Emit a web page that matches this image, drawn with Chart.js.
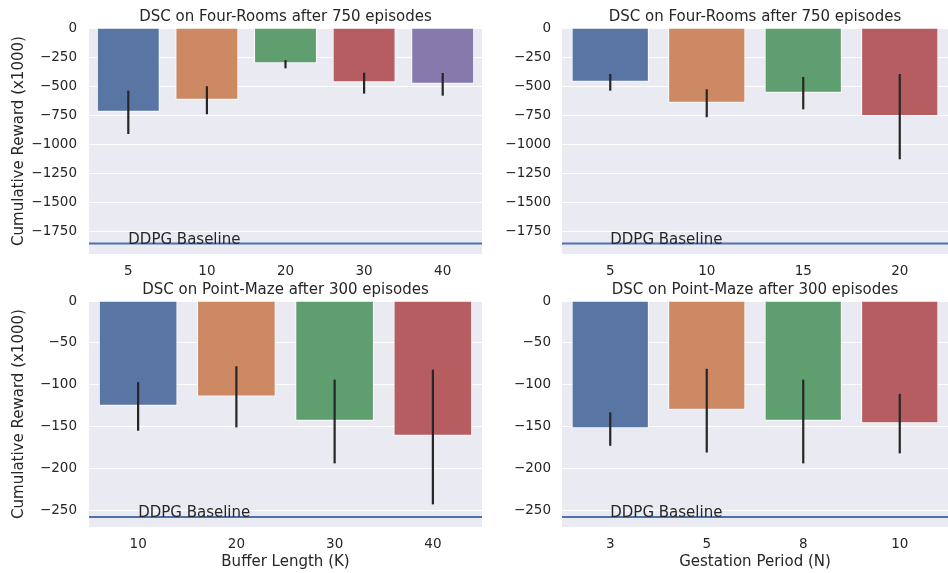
<!DOCTYPE html>
<html>
<head>
<meta charset="utf-8">
<script src="https://cdn.jsdelivr.net/npm/chart.js@4"></script>
<style>
  body { margin: 0; background: #fff; }
  #fig { position: relative; width: 948px; height: 573px; }
  .panel { position: absolute; }
</style>
</head>
<body>
<div id="fig">
  <div class="panel" style="left:0;top:0;width:482px;height:290px"><canvas id="chart1"></canvas></div>
  <div class="panel" style="left:482px;top:0;width:466px;height:290px"><canvas id="chart2"></canvas></div>
  <div class="panel" style="left:0;top:280px;width:482px;height:293px"><canvas id="chart3"></canvas></div>
  <div class="panel" style="left:482px;top:280px;width:466px;height:293px"><canvas id="chart4"></canvas></div>
</div>
<script>
// data (reward x1000)
var fourRoomsBufferLabels = ['5', '10', '20', '30', '40'];
var fourRoomsBufferMean = [-718, -615, -303, -466, -478];
var fourRoomsBufferLow = [-910, -740, -346, -563, -581];
var fourRoomsBufferHigh = [-538, -500, -275, -383, -386];

var fourRoomsGestLabels = ['5', '10', '15', '20'];
var fourRoomsGestMean = [-461, -641, -555, -755];
var fourRoomsGestLow = [-538, -766, -698, -1127];
var fourRoomsGestHigh = [-395, -526, -420, -395];

var mazeBufferLabels = ['10', '20', '30', '40'];
var mazeBufferMean = [-125, -114, -143, -161];
var mazeBufferLow = [-155, -151, -194, -243];
var mazeBufferHigh = [-97, -78, -94, -82];

var mazeGestLabels = ['3', '5', '8', '10'];
var mazeGestMean = [-152, -130, -143, -146];
var mazeGestLow = [-173, -181, -194, -182];
var mazeGestHigh = [-133, -81, -94, -111];

var fourRoomsBaseline = -1850;
var mazeBaseline = -258;

var fourRoomsTicks = [0, -250, -500, -750, -1000, -1250, -1500, -1750];
var mazeTicks = [0, -50, -100, -150, -200, -250];

var barColors = ['#5975a4', '#cc8963', '#5f9e6e', '#b55d60', '#857aab'];
var textColor = '#262626';
var FONT = "'DejaVu Sans', sans-serif";

var errorBars = {
  id: 'errorBars',
  afterDatasetsDraw: function(chart, args, opts) {
    var ctx = chart.ctx, x = chart.scales.x, y = chart.scales.y;
    ctx.save();
    ctx.strokeStyle = textColor;
    ctx.lineWidth = 2.2;
    opts.low.forEach(function(lo, i) {
      var px = x.getPixelForValue(i);
      ctx.beginPath();
      ctx.moveTo(px, y.getPixelForValue(lo));
      ctx.lineTo(px, y.getPixelForValue(opts.high[i]));
      ctx.stroke();
    });
    ctx.restore();
  }
};

var baseline = {
  id: 'baseline',
  afterDatasetsDraw: function(chart, args, opts) {
    var ctx = chart.ctx, x = chart.scales.x, y = chart.scales.y, area = chart.chartArea;
    var py = y.getPixelForValue(opts.value);
    ctx.save();
    ctx.strokeStyle = '#4c72b0';
    ctx.lineWidth = 2;
    ctx.beginPath();
    ctx.moveTo(area.left, py);
    ctx.lineTo(area.right, py);
    ctx.stroke();
    ctx.fillStyle = textColor;
    ctx.font = '15px ' + FONT;
    ctx.textBaseline = 'alphabetic';
    ctx.textAlign = 'left';
    ctx.fillText('DDPG Baseline', x.getPixelForValue(0), py);
    ctx.restore();
  }
};

var plotBg = {
  id: 'plotBg',
  beforeDraw: function(chart) {
    var a = chart.chartArea, ctx = chart.ctx;
    ctx.save();
    ctx.fillStyle = '#eaeaf2';
    ctx.fillRect(a.left, a.top, a.right - a.left, a.bottom - a.top);
    ctx.restore();
  }
};

function minus(v) {
  return v < 0 ? '\u2212' + Math.abs(v) : String(v);
}

function renderPanel(idChart, cfg) {
  var ctx = document.getElementById(idChart).getContext('2d');
  return new Chart(ctx, {
    type: 'bar',
    data: {
      labels: cfg.labels,
      datasets: [{
        data: cfg.mean,
        backgroundColor: barColors.slice(0, cfg.labels.length),
        borderColor: '#ffffff',
        borderWidth: 1,
        categoryPercentage: 0.8,
        barPercentage: 1
      }]
    },
    options: {
      responsive: true,
      maintainAspectRatio: false,
      animation: false,
      layout: { padding: 0 },
      plugins: {
        legend: { display: false },
        tooltip: { enabled: false },
        title: {
          display: true,
          fullSize: false,
          text: cfg.title,
          color: textColor,
          font: { family: FONT, size: 15, weight: 'normal' },
          padding: cfg.titlePad
        },
        errorBars: { low: cfg.low, high: cfg.high },
        baseline: { value: cfg.baseline }
      },
      scales: {
        x: {
          grid: { display: false, drawTicks: false },
          border: { display: false },
          ticks: { color: textColor, font: { family: FONT, size: 13.5 }, padding: 9 },
          title: {
            display: !!cfg.xTitle,
            text: cfg.xTitle || '',
            color: textColor,
            font: { family: FONT, size: 15 },
            padding: { top: 0, bottom: 2 }
          },
          afterFit: function(s) { s.height = cfg.xHeight; }
        },
        y: {
          min: cfg.yMin,
          max: 0,
          grid: { color: '#ffffff', lineWidth: 1, drawTicks: false },
          border: { display: false },
          ticks: {
            padding: cfg.tickPad,
            color: textColor,
            font: { family: FONT, size: 13.5 },
            callback: function(v) { return minus(v); }
          },
          afterBuildTicks: function(s) {
            s.ticks = cfg.ticks.map(function(v) { return { value: v }; });
          },
          title: {
            display: !!cfg.yTitle,
            text: cfg.yTitle || '',
            color: textColor,
            font: { family: FONT, size: 15 },
            padding: { top: 10, bottom: 0 }
          },
          afterFit: function(s) { s.width = cfg.yWidth; }
        }
      }
    },
    plugins: [plotBg, errorBars, baseline]
  });
}

var yLabel = 'Cumulative Reward (x1000)';

renderPanel('chart1', {
  labels: fourRoomsBufferLabels, mean: fourRoomsBufferMean,
  low: fourRoomsBufferLow, high: fourRoomsBufferHigh, baseline: fourRoomsBaseline,
  title: 'DSC on Four-Rooms after 750 episodes', titlePad: { top: 8, bottom: 2 },
  yTitle: yLabel, yWidth: 89, tickPad: 12, xHeight: 36, yMin: -1940, ticks: fourRoomsTicks
});
renderPanel('chart2', {
  labels: fourRoomsGestLabels, mean: fourRoomsGestMean,
  low: fourRoomsGestLow, high: fourRoomsGestHigh, baseline: fourRoomsBaseline,
  title: 'DSC on Four-Rooms after 750 episodes', titlePad: { top: 8, bottom: 2 },
  yWidth: 80, tickPad: 11, xHeight: 36, yMin: -1940, ticks: fourRoomsTicks
});
renderPanel('chart3', {
  labels: mazeBufferLabels, mean: mazeBufferMean,
  low: mazeBufferLow, high: mazeBufferHigh, baseline: mazeBaseline,
  title: 'DSC on Point-Maze after 300 episodes', titlePad: { top: 1, bottom: 2 },
  yTitle: yLabel, xTitle: 'Buffer Length (K)',
  yWidth: 89, tickPad: 12, xHeight: 46, yMin: -270, ticks: mazeTicks
});
renderPanel('chart4', {
  labels: mazeGestLabels, mean: mazeGestMean,
  low: mazeGestLow, high: mazeGestHigh, baseline: mazeBaseline,
  title: 'DSC on Point-Maze after 300 episodes', titlePad: { top: 1, bottom: 2 },
  xTitle: 'Gestation Period (N)',
  yWidth: 80, tickPad: 11, xHeight: 46, yMin: -270, ticks: mazeTicks
});
</script>
</body>
</html>
